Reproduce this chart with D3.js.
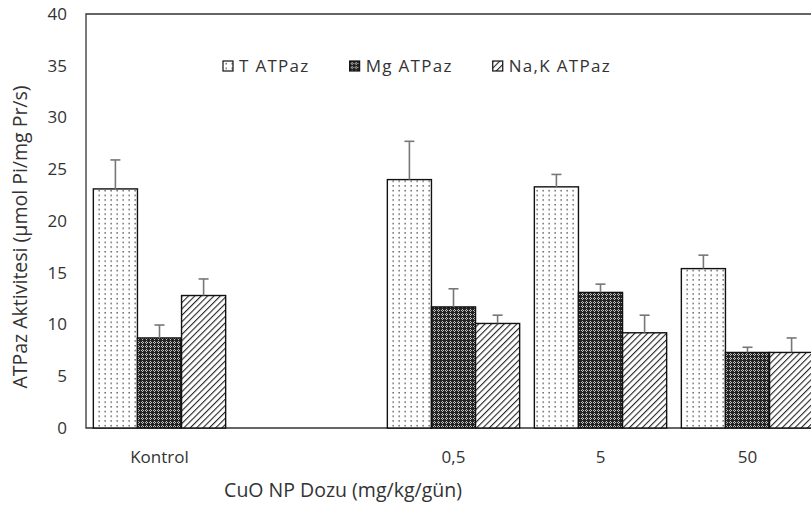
<!DOCTYPE html>
<html>
<head>
<meta charset="utf-8">
<script src="https://cdn.jsdelivr.net/npm/d3@7"></script>
<style>
  body { margin: 0; background: #fff; }
  text { font-family: "Open Sans", sans-serif; fill: #333; }
</style>
</head>
<body>
<div id="chart"></div>
<script>
// doses, with an empty slot between Kontrol and 0,5 like in the original figure
const categories = ["Kontrol", "", "0,5", "5", "50"];
const groups = ["Kontrol", "0,5", "5", "50"];
const series = ["T ATPaz", "Mg ATPaz", "Na,K ATPaz"];

const tValues = [23.1, 24.0, 23.3, 15.4];
const mgValues = [8.7, 11.7, 13.1, 7.3];
const nakValues = [12.8, 10.1, 9.2, 7.3];

const tErr = [2.8, 3.7, 1.2, 1.3];
const mgErr = [1.25, 1.75, 0.8, 0.5];
const nakErr = [1.6, 0.8, 1.7, 1.4];

const yTicks = [0, 5, 10, 15, 20, 25, 30, 35, 40];

const width = 811,
  height = 506,
  plotLeft = 86,
  plotTop = 14,
  plotBottom = 428,
  plotRight = 821; // plot area runs past the picture edge

const rows = [];
groups.forEach((g, i) => {
  rows.push({ group: g, key: series[0], value: tValues[i], err: tErr[i] });
  rows.push({ group: g, key: series[1], value: mgValues[i], err: mgErr[i] });
  rows.push({ group: g, key: series[2], value: nakValues[i], err: nakErr[i] });
});

const svg = d3.select("#chart")
  .append("svg")
  .attr("width", width)
  .attr("height", height);

// fill patterns
const defs = svg.append("defs");

const dots = defs.append("pattern")
  .attr("id", "pat-t")
  .attr("patternUnits", "userSpaceOnUse")
  .attr("width", 6).attr("height", 4.7);
dots.append("rect").attr("width", 6).attr("height", 4.7).attr("fill", "#fff");
dots.append("rect").attr("x", 2.5).attr("y", 2).attr("width", 1.3).attr("height", 1.3).attr("fill", "#333");

const check = defs.append("pattern")
  .attr("id", "pat-mg")
  .attr("patternUnits", "userSpaceOnUse")
  .attr("width", 4).attr("height", 4);
check.append("rect").attr("width", 4).attr("height", 4).attr("fill", "#242424");
[[2, 1], [1, 2], [3, 2], [2, 3]].forEach(([px, py]) => {
  check.append("rect").attr("x", px).attr("y", py).attr("width", 1).attr("height", 1).attr("fill", "#c4c4c4");
});

const hatch = defs.append("pattern")
  .attr("id", "pat-nak")
  .attr("patternUnits", "userSpaceOnUse")
  .attr("width", 4.5).attr("height", 4.5)
  .attr("patternTransform", "rotate(45)");
hatch.append("rect").attr("width", 4.5).attr("height", 4.5).attr("fill", "#fff");
hatch.append("line").attr("x1", 0).attr("y1", 0).attr("x2", 0).attr("y2", 4.5)
  .attr("stroke", "#222").attr("stroke-width", 2.2);

const fills = d3.scaleOrdinal().domain(series).range(["url(#pat-t)", "url(#pat-mg)", "url(#pat-nak)"]);

const x = d3.scaleBand()
  .domain(categories)
  .range([plotLeft, plotRight])
  .paddingInner(0.1)
  .paddingOuter(0.05);

const xSub = d3.scaleBand()
  .domain(series)
  .range([0, x.bandwidth()]);

const y = d3.scaleLinear()
  .domain([0, 40])
  .range([plotBottom, plotTop]);

// frame
svg.append("path")
  .attr("d", `M${width},${plotTop}H${plotLeft}V${plotBottom}H${width}`)
  .attr("fill", "none")
  .attr("stroke", "#333")
  .attr("stroke-width", 1.3);

// y axis
svg.append("g")
  .attr("transform", `translate(${plotLeft},0)`)
  .call(d3.axisLeft(y).tickValues(yTicks).tickSize(0).tickPadding(19))
  .call(g => g.select(".domain").remove())
  .selectAll("text")
  .attr("font-size", 17)
  .attr("font-family", "Open Sans, sans-serif")
  .attr("fill", "#333");

// x axis labels
svg.append("g")
  .attr("transform", `translate(0,${plotBottom})`)
  .call(d3.axisBottom(x).tickValues(groups).tickSize(0).tickPadding(23))
  .call(g => g.select(".domain").remove())
  .selectAll("text")
  .attr("font-size", 17)
  .attr("font-family", "Open Sans, sans-serif")
  .attr("fill", "#333");

// bars
svg.append("g")
  .selectAll("rect")
  .data(rows)
  .join("rect")
  .attr("x", d => x(d.group) + xSub(d.key))
  .attr("y", d => y(d.value))
  .attr("width", xSub.bandwidth())
  .attr("height", d => y(0) - y(d.value))
  .attr("fill", d => fills(d.key))
  .attr("stroke", "#111")
  .attr("stroke-width", 1.4);

// error bars (upper only)
const errG = svg.append("g")
  .attr("stroke", "#777")
  .attr("stroke-width", 1.6);

errG.selectAll("line.v")
  .data(rows)
  .join("line")
  .attr("class", "v")
  .attr("x1", d => x(d.group) + xSub(d.key) + xSub.bandwidth() / 2)
  .attr("x2", d => x(d.group) + xSub(d.key) + xSub.bandwidth() / 2)
  .attr("y1", d => y(d.value))
  .attr("y2", d => y(d.value + d.err));

errG.selectAll("line.cap")
  .data(rows)
  .join("line")
  .attr("class", "cap")
  .attr("x1", d => x(d.group) + xSub(d.key) + xSub.bandwidth() / 2 - 5)
  .attr("x2", d => x(d.group) + xSub(d.key) + xSub.bandwidth() / 2 + 5)
  .attr("y1", d => y(d.value + d.err))
  .attr("y2", d => y(d.value + d.err));

// legend, items laid out one after another
const legend = svg.append("g").attr("transform", "translate(223,61)");
let lx = 0;
series.forEach(s => {
  const item = legend.append("g").attr("transform", `translate(${lx},0)`);
  item.append("rect")
    .attr("width", 10)
    .attr("height", 10)
    .attr("fill", fills(s))
    .attr("stroke", "#111")
    .attr("stroke-width", 1.2);
  const t = item.append("text")
    .attr("x", 16)
    .attr("y", 10.5)
    .attr("font-size", 17)
    .attr("letter-spacing", 1.3)
    .text(s);
  lx += 16 + t.node().getComputedTextLength() + 40;
});

// axis titles
svg.append("text")
  .attr("x", 343)
  .attr("y", 497)
  .attr("text-anchor", "middle")
  .attr("font-size", 19.5)
  .text("CuO NP Dozu (mg/kg/gün)");

svg.append("text")
  .attr("transform", "translate(27,237) rotate(-90)")
  .attr("text-anchor", "middle")
  .attr("font-size", 19.5)
  .text("ATPaz Aktivitesi (µmol Pi/mg Pr/s)");
</script>
</body>
</html>
